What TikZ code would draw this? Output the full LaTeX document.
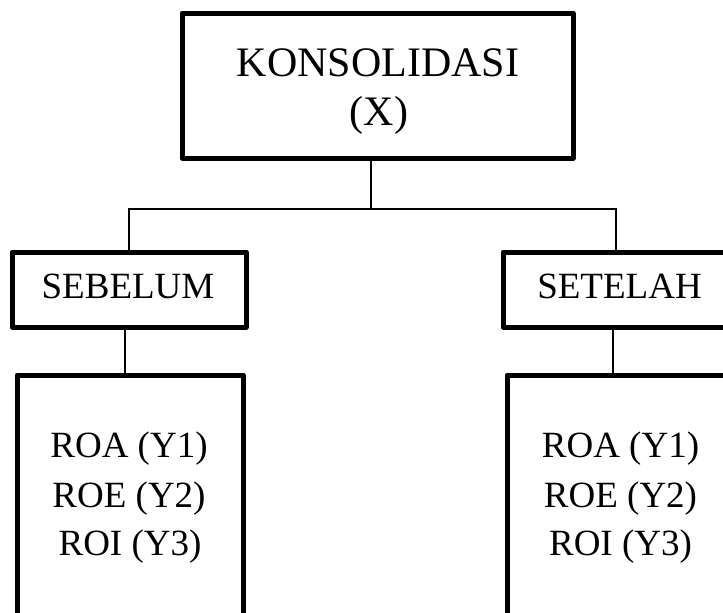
\documentclass[tikz,border=0pt]{standalone}
\usepackage{fontspec}
\setmainfont{Liberation Serif}
\begin{document}
\begin{tikzpicture}[x=1pt,y=-1pt]
\tikzset{
  box/.style={draw, line width=5pt, line join=round, inner sep=0pt},
  conn/.style={line width=1.6pt},
  bigtxt/.style={anchor=base, inner sep=0pt, font=\fontsize{42}{49}\selectfont},
  txt/.style={anchor=base, inner sep=0pt, font=\fontsize{37}{49}\selectfont}
}
\useasboundingbox (0,0) rectangle (723,613);
\clip (0,0) rectangle (723,613);
\fill[white] (0,0) rectangle (723,613);
% boxes
\node[box, minimum width=391pt, minimum height=145pt] (top) at (377.5,85.5) {};
\node[box, minimum width=234pt, minimum height=75pt] (seb) at (129,289.5) {};
\node[box, minimum width=234pt, minimum height=75pt] (set) at (620,289.5) {};
\node[box, minimum width=226pt, minimum height=325pt] (lowL) at (130,537.5) {};
\node[box, minimum width=226pt, minimum height=325pt] (lowR) at (620,537.5) {};
% texts
\node[bigtxt] (t1) at (378,76) {KONSOLIDASI};
\node[bigtxt] (t2) at (379,125) {(X)};
\node[txt] (s1) at (128,298) {SEBELUM};
\node[txt] (s2) at (619.5,298) {SETELAH};
\node[txt] (l1) at (129,457) {ROA (Y1)};
\node[txt] (l2) at (129,507) {ROE (Y2)};
\node[txt] (l3) at (130,555) {ROI (Y3)};
\node[txt] (r1) at (620.5,457) {ROA (Y1)};
\node[txt] (r2) at (620.5,507) {ROE (Y2)};
\node[txt] (r3) at (620.5,555) {ROI (Y3)};
% connectors
\coordinate (j) at (371,209);
\coordinate (jl) at (129,209);
\coordinate (jr) at (616,209);
\draw[conn] (top.south -| j) -- (j);
\draw[conn] (seb.north -| jl) -- (jl) -- (jr) -- (set.north -| jr);
\draw[conn] (seb.south -| 125,0) -- (lowL.north -| 125,0);
\draw[conn] (set.south -| 613,0) -- (lowR.north -| 613,0);
\end{tikzpicture}
\end{document}
